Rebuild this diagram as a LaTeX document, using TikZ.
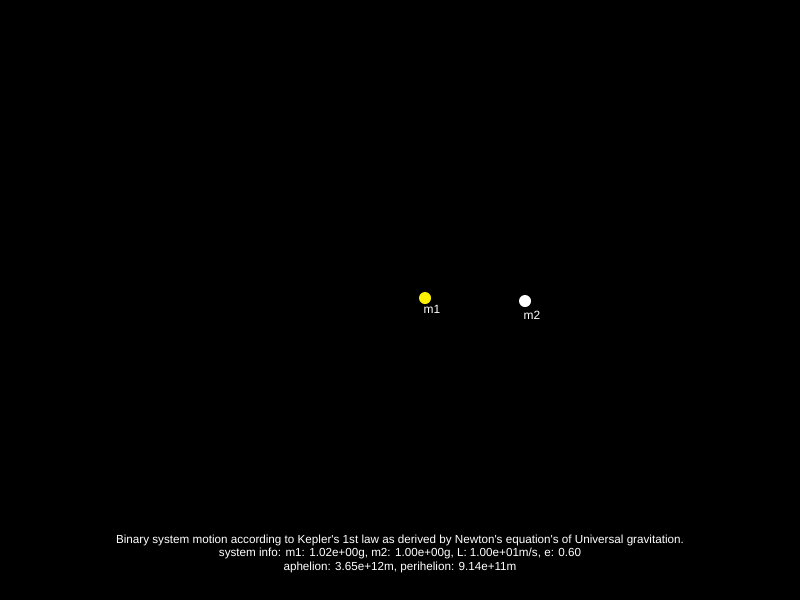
\documentclass[tikz,border=0pt]{standalone}
\usepackage{fontspec}
\setmainfont{Liberation Sans}
\usetikzlibrary{positioning}

\begin{document}
\begin{tikzpicture}[x=0.025cm,y=-0.025cm]
        \tikzset{body/.style={circle, inner sep=0pt, minimum size=12*0.025cm},
                 tag/.style={white, font=\fontsize{8.5}{10}\selectfont, inner sep=0pt},
                 info/.style={white, font=\fontsize{8.3}{10}\selectfont, inner sep=0pt, anchor=base}}
        % black sky
        \fill[black] (0,0) rectangle (800,600);
        \useasboundingbox (0,0) rectangle (800,600);

        % the two masses
        \node[body, fill=yellow] (m1) at (425,298) {};
        \node[body, fill=white] (m2) at (525,301) {};
        \node[tag] (m1lbl) at (432,309) {m1};
        \node[tag] (m2lbl) at (532,315) {m2};

        % caption
        \node[info] (line1) at (400,543) {Binary system motion according to Kepler\textquotesingle s 1st law as derived by Newton\textquotesingle s equation\textquotesingle s of Universal gravitation.};
        \node[info] (line2) at (400,556) {system info: m1: 1.02e+00g, m2: 1.00e+00g, L: 1.00e+01m/s, e: 0.60};
        \node[info] (line3) at (400,570) {aphelion: 3.65e+12m, perihelion: 9.14e+11m};
\end{tikzpicture}
\end{document}
